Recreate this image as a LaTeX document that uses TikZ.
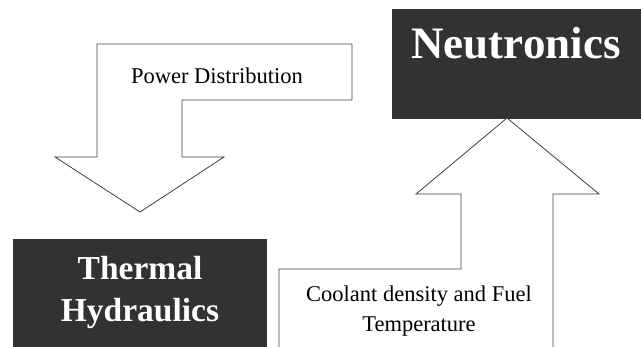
\documentclass[tikz,border=0pt]{standalone}
\usepackage{fontspec}
\setmainfont{Liberation Serif}
\definecolor{boxgray}{RGB}{50,50,50}
\tikzset{
  blockbox/.style={draw=black!80,fill=boxgray,line width=0.8pt},
  blockarrow/.style={draw=black!75,fill=white,line width=0.8pt,line join=miter},
  boxlabel/.style={text=white,font=\bfseries\fontsize{33.5}{42}\selectfont,align=center},
  arrowlabel/.style={font=\fontsize{22.5}{30}\selectfont,align=center}
}
\begin{document}
\begin{tikzpicture}[x=1pt,y=-1pt]
    \useasboundingbox (0,0) rectangle (641,346);
    %the two blocks
    \draw[blockbox] (392,9) rectangle (640,118);
    \draw[blockbox] (13,239) rectangle (266,348);
    \node[boxlabel,font=\bfseries\fontsize{45}{50}\selectfont] (neutronics) at (516,43) {Neutronics};
    \node[boxlabel] (thermal) at (140,292) {Thermal\\Hydraulics};
    %power distribution arrow
    \draw[blockarrow] (97,157) -- (97,44) -- (352,44) -- (352,100) -- (182,100) -- (182,157)
        -- (224,157) -- (140,212) -- (55,157) -- cycle;
    \node[arrowlabel] (power) at (217,76) {Power Distribution};
    %feedback arrow
    \draw[blockarrow] (279,348) -- (279,269) -- (461,269) -- (461,194) -- (416,194)
        -- (507,118) -- (599,194) -- (553,194) -- (553,348);
    \node[arrowlabel] (feedback) at (419,311) {Coolant density and Fuel\\Temperature};
\end{tikzpicture}
\end{document}
